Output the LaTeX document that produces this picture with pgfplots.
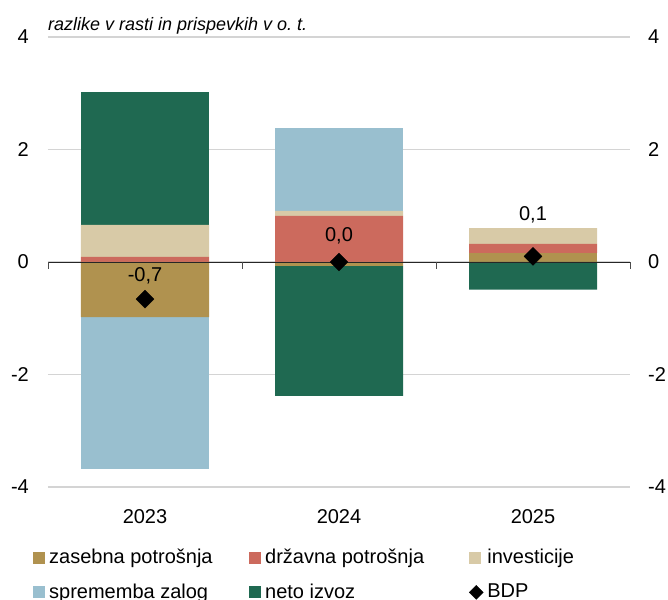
\documentclass[border=0pt]{standalone}
\usepackage{pgfplots}
\pgfplotsset{compat=1.18}
\usepackage{pgfplotstable}
\usepackage{fontspec}
\setmainfont{Liberation Sans}

\definecolor{zas}{HTML}{B0924F}
\definecolor{drz}{HTML}{CC6A5D}
\definecolor{inv}{HTML}{D8CAA7}
\definecolor{zal}{HTML}{99BFCF}
\definecolor{neto}{HTML}{1F6951}
\definecolor{gridgray}{HTML}{D4D4D4}

\pgfplotstableread{
x zas drz inv zal neto
0 0    0.09 0.57 0    2.36
1 0    0.82 0.09 1.47 0
2 0.16 0.16 0.28 0    0
}\postab
\pgfplotstableread{
x zas drz inv zal neto
0 -0.98 0 0 -2.70 0
1 -0.07 0 0 0     -2.31
2 0     0 0 0     -0.49
}\negtab
\pgfplotstableread{
x bdp
0 -0.66
1 0.0
2 0.1
}\bdptab

\pgfplotsset{
  common/.style={
    scale only axis, width=582bp, height=450bp,
    at={(0,0)}, anchor=south west,
    xmin=-0.5, xmax=2.5, ymin=-4, ymax=4,
    axis line style={draw=none},
    tick style={draw=none},
  },
  sqleg/.style={legend image code/.code={\fill[##1] (0bp,-6bp) rectangle (12bp,6bp);}},
  dmleg/.style={legend image code/.code={\draw[##1] plot coordinates {(7bp,0bp)};}},
}

\begin{document}
\fontsize{20bp}{24bp}\selectfont
\begin{tikzpicture}
% positive parts, grid, left labels, x labels
\begin{axis}[common,
  ybar stacked, bar width=128bp,
  ytick={-4,-2,0,2,4}, yticklabels={-4,-2,0,2,4},
  yticklabel style={anchor=east, inner sep=0pt, xshift=-19bp},
  ymajorgrids, grid style={gridgray, line width=1.3bp},
  xtick={0,1,2}, xticklabels={2023,2024,2025},
  xticklabel style={anchor=center, inner sep=0pt, yshift=-30bp},
]
\addplot[fill=zas, draw=none] table[x=x, y=zas] {\postab};
\addplot[fill=drz, draw=none] table[x=x, y=drz] {\postab};
\addplot[fill=inv, draw=none] table[x=x, y=inv] {\postab};
\addplot[fill=zal, draw=none] table[x=x, y=zal] {\postab};
\addplot[fill=neto, draw=none] table[x=x, y=neto] {\postab};
\end{axis}
% negative parts, right labels
\begin{axis}[common,
  ybar stacked, bar width=128bp,
  ytick={-4,-2,0,2,4}, yticklabels={-4,-2,0,2,4},
  yticklabel pos=right,
  yticklabel style={anchor=west, inner sep=0pt, xshift=18bp},
  xtick=\empty,
]
\addplot[fill=zas, draw=none] table[x=x, y=zas] {\negtab};
\addplot[fill=drz, draw=none] table[x=x, y=drz] {\negtab};
\addplot[fill=inv, draw=none] table[x=x, y=inv] {\negtab};
\addplot[fill=zal, draw=none] table[x=x, y=zal] {\negtab};
\addplot[fill=neto, draw=none] table[x=x, y=neto] {\negtab};
\end{axis}
% overlay: zero line, BDP, labels, legend
\begin{axis}[common,
  xtick=\empty, ytick=\empty,
  clip=false,
  legend columns=3, legend cell align=left,
  legend style={at={(axis description cs:-0.0258,-0.133)}, anchor=north west,
    draw=none, fill=none, inner sep=0pt,
    nodes={inner sep=2bp},
    /tikz/every odd column/.append style={column sep=2bp},
    row sep=13bp},
]
\draw[black!85, line width=1bp] (axis cs:-0.5,0) -- (axis cs:2.5,0);
\draw[black!70, line width=1bp] (axis cs:-0.5,0) -- ++(0pt,-7bp);
\draw[black!70, line width=1bp] (axis cs:0.5,0) -- ++(0pt,-7bp);
\draw[black!70, line width=1bp] (axis cs:1.5,0) -- ++(0pt,-7bp);
\draw[black!70, line width=1bp] (axis cs:2.5,0) -- ++(0pt,-7bp);
\addlegendimage{sqleg, fill=zas, draw=none}
\addlegendentry{\makebox[198bp][l]{zasebna potrošnja}}
\addlegendimage{sqleg, fill=drz, draw=none}
\addlegendentry{\makebox[202bp][l]{državna potrošnja}}
\addlegendimage{sqleg, fill=inv, draw=none}
\addlegendentry{investicije}
\addlegendimage{sqleg, fill=zal, draw=none}
\addlegendentry{\makebox[198bp][l]{sprememba zalog}}
\addlegendimage{sqleg, fill=neto, draw=none}
\addlegendentry{\makebox[202bp][l]{neto izvoz}}
\addlegendimage{dmleg, only marks, mark=square*, mark size=5bp, mark options={rotate=45, fill=black, draw=black}}
\addlegendentry{BDP}
\addplot[only marks, mark=square*, mark size=6.3bp, mark options={rotate=45, fill=black, draw=black}, forget plot]
  table[x=x, y=bdp] {\bdptab};
\node at (axis cs:0,-0.25) {-0,7};
\node at (axis cs:1,0.46) {0,0};
\node at (axis cs:2,0.84) {0,1};
\node[anchor=base west, inner sep=0pt, font=\itshape\fontsize{18bp}{20bp}\selectfont]
  at (axis description cs:0,1) [yshift=6bp] {razlike v rasti in prispevkih v o.\ t.};
\end{axis}
\pgfresetboundingbox
\path[use as bounding box] (-48bp,-113bp) rectangle (620bp,487bp);
\end{tikzpicture}
\end{document}
